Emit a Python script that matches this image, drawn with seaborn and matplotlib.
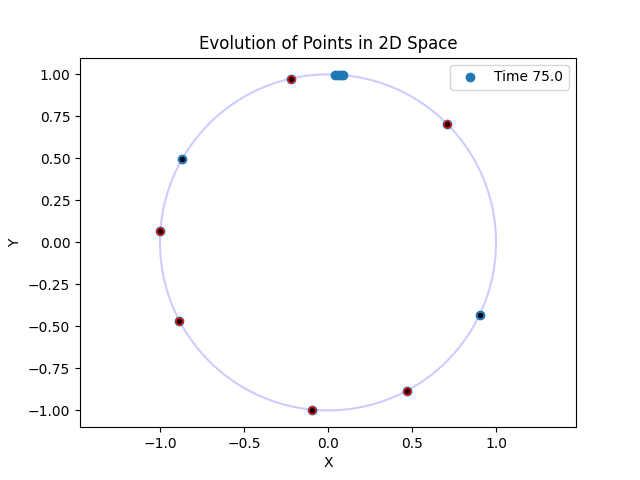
import matplotlib
matplotlib.use('Agg')
import matplotlib.pyplot as plt
import numpy as np
import seaborn as sns

# Punkte zum Zeitpunkt 75.0
x_all = [-0.22, 0.71, -1.0, -0.885, -0.095, 0.47, -0.87, 0.905, 0.04, 0.06, 0.08, 0.09]
y_all = [0.975, 0.705, 0.07, -0.465, -0.996, -0.885, 0.495, -0.435, 0.999, 0.998, 0.997, 0.996]

# rot markierte Punkte
x_red = [-0.22, 0.71, -1.0, -0.885, -0.095, 0.47]
y_red = [0.975, 0.705, 0.07, -0.465, -0.996, -0.885]

# schwarze Mittelpunkte
x_black = [-0.22, 0.71, -1.0, -0.885, -0.095, 0.47, -0.87, 0.905]
y_black = [0.975, 0.705, 0.07, -0.465, -0.996, -0.885, 0.495, -0.435]

radius = 1.0

fig, ax = plt.subplots(figsize=(6.4, 4.8), dpi=100)
ax.add_patch(plt.Circle((0, 0), radius, fill=False, edgecolor='blue', alpha=0.2, linewidth=1.5))
sns.scatterplot(x=x_all, y=y_all, ax=ax, color='#1f77b4', s=36, linewidth=1, edgecolor='face', label='Time 75.0')
sns.scatterplot(x=x_red, y=y_red, ax=ax, color='red', s=24, linewidth=1, edgecolor='face', legend=False)
sns.scatterplot(x=x_black, y=y_black, ax=ax, color='black', s=8, linewidth=1, edgecolor='face', legend=False)
ax.axis('equal')
ax.set_title('Evolution of Points in 2D Space')
ax.set_xlabel('X')
ax.set_ylabel('Y')
ax.legend(loc='upper right')
fig.savefig('out.png')
